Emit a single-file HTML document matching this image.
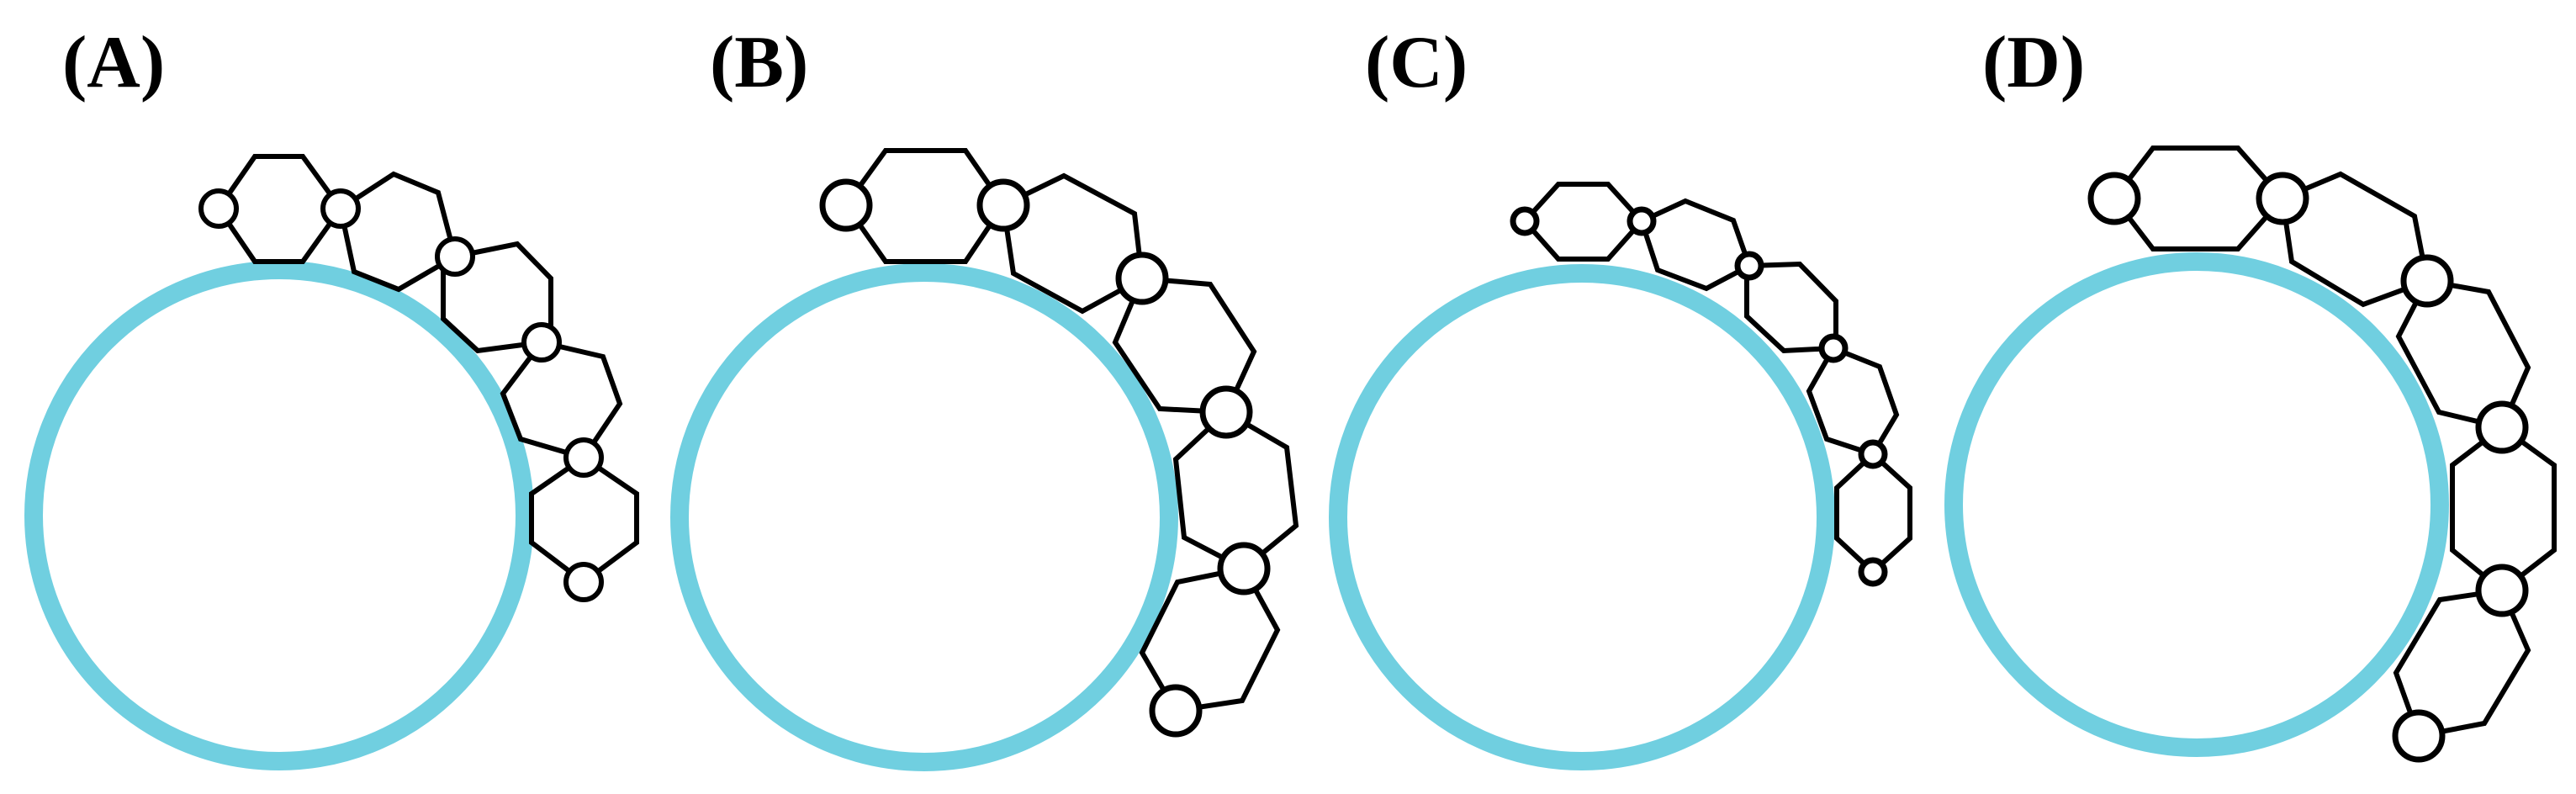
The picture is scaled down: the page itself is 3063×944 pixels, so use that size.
<!DOCTYPE html>
<html><head><meta charset="utf-8"><style>
html,body{margin:0;padding:0;background:#fff;}
svg{display:block;}
text{font-family:"Liberation Serif",serif;font-weight:bold;font-size:88px;}
</style></head><body>
<svg width="3063" height="944" viewBox="0 0 3063 944" xmlns="http://www.w3.org/2000/svg">
<g fill="none" stroke="#70CFE0" stroke-width="22">
<circle cx="332" cy="613" r="292"/>
<circle cx="1099" cy="615" r="291"/>
<circle cx="1881" cy="615" r="290"/>
<circle cx="2612" cy="600" r="289"/>
</g>
<text x="74" y="103">(A)</text>
<text x="844" y="103">(B)</text>
<text x="1623" y="103">(C)</text>
<text x="2357" y="103">(D)</text>
<g fill="none" stroke="#000" stroke-width="6" stroke-linejoin="miter">
<!-- A -->
<polygon points="260,248 303,186 360,186 405,248 360,311 303,311"/>
<polygon points="405,248 468,207 521,229 541,305 474,344 421,323"/>
<polygon points="541,305 615,290 655,331 655,388 644,407 568,417 527,379 527,322"/>
<polygon points="644,407 717,424 737,480 694,544 619,522 598,468"/>
<polygon points="694,544 757,587 757,645 694,692 632,645 632,587"/>
<!-- B -->
<polygon points="1006,244 1053,179 1148,179 1193,244 1148,311 1053,311"/>
<polygon points="1193,244 1265,209 1349,254 1358,331 1287,370 1205,325"/>
<polygon points="1358,331 1439,338 1491,418 1458,490 1379,486 1326,407"/>
<polygon points="1458,490 1530,532 1541,625 1479,676 1408,639 1398,546"/>
<polygon points="1479,676 1519,749 1477,833 1398,845 1358,776 1400,692"/>
<!-- C -->
<polygon points="1813,263 1853,219 1912,219 1952,263 1912,308 1853,308"/>
<polygon points="1952,263 2004,239 2061,262 2080,316 2029,343 1971,321"/>
<polygon points="2080,316 2140,314 2183,358 2183,403 2180,414 2121,417 2077,376 2077,328"/>
<polygon points="2180,414 2235,436 2255,493 2227,540 2172,522 2151,465"/>
<polygon points="2227,540 2271,580 2271,640 2227,680 2184,640 2184,580"/>
<!-- D -->
<polygon points="2514,236 2560,176 2661,176 2714,236 2661,296 2560,296"/>
<polygon points="2714,236 2783,207 2871,257 2886,334 2810,362 2725,311"/>
<polygon points="2886,334 2959,347 3006,437 2975,508 2900,490 2852,400"/>
<polygon points="2975,508 3037,553 3037,654 2975,702 2916,654 2916,553"/>
<polygon points="2975,702 3006,773 2954,860 2876,875 2849,800 2901,713"/>
</g>
<g fill="#fff" stroke="#000">
<g stroke-width="6">
<circle cx="260" cy="248" r="21"/><circle cx="405" cy="248" r="21"/><circle cx="541" cy="305" r="21"/>
<circle cx="644" cy="407" r="21"/><circle cx="694" cy="544" r="21"/><circle cx="694" cy="692" r="21"/>
</g>
<g stroke-width="7">
<circle cx="1006" cy="244" r="28"/><circle cx="1193" cy="244" r="28"/><circle cx="1358" cy="331" r="28"/>
<circle cx="1458" cy="490" r="28"/><circle cx="1479" cy="676" r="28"/><circle cx="1398" cy="845" r="28"/>
<circle cx="1813" cy="263" r="14"/><circle cx="1952" cy="263" r="14"/><circle cx="2080" cy="316" r="14"/>
<circle cx="2180" cy="414" r="14"/><circle cx="2227" cy="540" r="14"/><circle cx="2227" cy="680" r="14"/>
<circle cx="2514" cy="236" r="28"/><circle cx="2714" cy="236" r="28"/><circle cx="2886" cy="334" r="28"/>
<circle cx="2975" cy="508" r="28"/><circle cx="2975" cy="702" r="28"/><circle cx="2876" cy="875" r="28"/>
</g>
</g>
</svg>
</body></html>
